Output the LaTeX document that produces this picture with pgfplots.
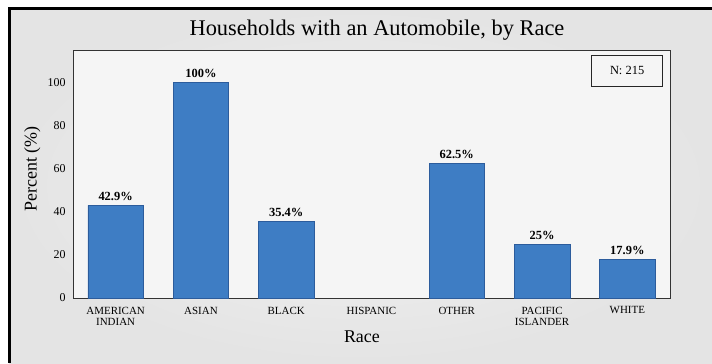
\documentclass[border=0pt]{standalone}
\usepackage{fontspec}
\setmainfont{Liberation Serif}
\usepackage{pgfplots}
\pgfplotsset{compat=1.18}

\definecolor{barblue}{RGB}{62,125,196}
\definecolor{baredge}{RGB}{44,92,156}
\definecolor{panelin}{RGB}{242,242,242}
\definecolor{panelout}{RGB}{228,228,228}
\definecolor{plotbg}{RGB}{245,245,245}

\begin{document}
\begin{tikzpicture}[x=1bp,y=1bp]
  \useasboundingbox (0,0) rectangle (712,-363);
  \fill[white] (0,0) rectangle (712,-363);
  % chart panel
  \shade[inner color=panelin, outer color=panelout] (9,-8) rectangle (712,-363);
  \draw[line width=3bp] (9.5,-363) -- (9.5,-8.5) -- (712,-8.5);
  % title
  \node[font=\fontsize{22.5}{26}\selectfont, anchor=base] at (377,-35) {Households with an Automobile, by Race};

  \begin{axis}[
      at={(73bp,-298bp)}, anchor=south west,
      scale only axis, width=597bp, height=248bp,
      xmin=-0.5, xmax=6.5, ymin=0, ymax=115,
      ytick={0,20,...,100},
      xtick={0,...,6},
      xticklabels={AMERICAN\\INDIAN, ASIAN, BLACK, HISPANIC, OTHER, PACIFIC\\ISLANDER, WHITE},
      xticklabel style={align=center, font=\fontsize{11}{12}\selectfont, yshift=-1bp},
      yticklabel style={font=\fontsize{12}{14}\selectfont, xshift=-4bp},
      /pgf/number format/assume math mode=true,
      tick style={draw=none},
      axis line style={draw=black!80, line width=0.8pt},
      axis background/.style={fill=plotbg},
      ylabel={Percent (\%)},
      xlabel={Race},
      ylabel style={font=\fontsize{18}{21}\selectfont, at={(axis description cs:-0.068,0.52)}, anchor=center},
      xlabel style={font=\fontsize{18}{21}\selectfont, at={(axis description cs:0.484,-0.18)}, anchor=base},
      ybar, bar width=0.65,
      nodes near coords={\pgfmathprintnumber{\pgfplotspointmeta}\%},
      nodes near coords style={font=\bfseries\fontsize{12.5}{14}\selectfont, yshift=1bp},
    ]
    % HISPANIC (x=3) has no households with an automobile
    \addplot[fill=barblue, draw=baredge, line width=0.6pt] coordinates {
      (0,42.9) (1,100) (2,35.4) (4,62.5) (5,25) (6,17.9)
    };
    \node[draw=black!85, line width=0.8pt, fill=plotbg, minimum width=71bp, minimum height=31bp,
          font=\fontsize{12.5}{14}\selectfont, anchor=north east]
      at (axis description cs:0.9883,0.9798) {N: 215};
  \end{axis}
\end{tikzpicture}
\end{document}
